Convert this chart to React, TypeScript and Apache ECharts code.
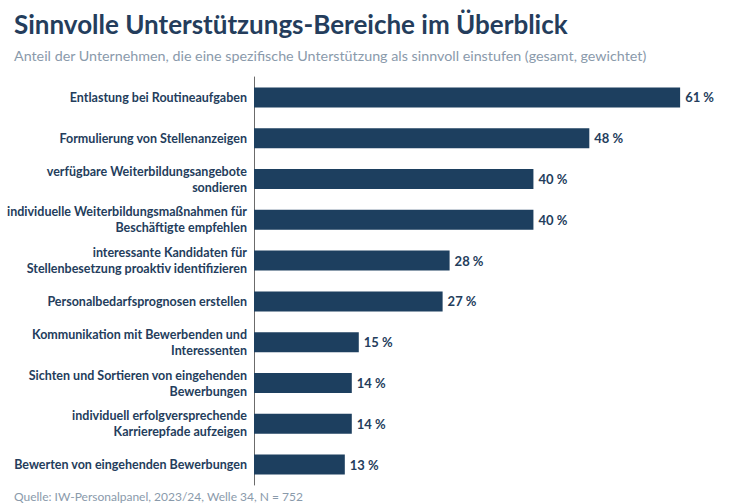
import React, { useEffect, useRef } from "react";
import * as echarts from "echarts";

const categories = [
  "Entlastung bei Routineaufgaben",
  "Formulierung von Stellenanzeigen",
  "verfügbare Weiterbildungsangebote\nsondieren",
  "individuelle Weiterbildungsmaßnahmen für\nBeschäftigte empfehlen",
  "interessante Kandidaten für\nStellenbesetzung proaktiv identifizieren",
  "Personalbedarfsprognosen erstellen",
  "Kommunikation mit Bewerbenden und\nInteressenten",
  "Sichten und Sortieren von eingehenden\nBewerbungen",
  "individuell erfolgversprechende\nKarrierepfade aufzeigen",
  "Bewerten von eingehenden Bewerbungen",
];
const values = [61, 48, 40, 40, 28, 27, 15, 14, 14, 13];

const titleText = "Sinnvolle Unterstützungs-Bereiche im Überblick";
const subtitleText =
  "Anteil der Unternehmen, die eine spezifische Unterstützung als sinnvoll einstufen (gesamt, gewichtet)";
const sourceText = "Quelle: IW-Personalpanel, 2023/24, Welle 34, N = 752";

const NAVY = "#1d3f5f";
const TEXT = "#243d5c";
const GRAY = "#8a9aab";
const FONT = "Lato, 'Noto Sans', sans-serif";

export default function App() {
  const ref = useRef<HTMLDivElement>(null);
  useEffect(() => {
    if (!ref.current) return;
    const chart = echarts.init(ref.current, null, { renderer: "svg" });
    chart.setOption({
      animation: false,
      backgroundColor: "#ffffff",
      textStyle: { fontFamily: FONT },
      title: [
        {
          text: titleText,
          left: 9,
          top: 6,
          textStyle: { fontFamily: FONT, fontSize: 26, fontWeight: "bold", color: TEXT },
        },
        {
          text: subtitleText,
          left: 9,
          top: 43,
          textStyle: { fontFamily: FONT, fontSize: 14.3, fontWeight: "normal", color: GRAY },
        },
        {
          text: sourceText,
          left: 9,
          top: 485,
          textStyle: { fontFamily: FONT, fontSize: 12, fontWeight: "normal", color: GRAY },
        },
      ],
      grid: { left: 254, top: 77, width: 489, height: 408, containLabel: false },
      xAxis: {
        type: "value",
        min: 0,
        max: 70,
        show: false,
      },
      yAxis: {
        type: "category",
        data: categories,
        inverse: true,
        axisLine: { show: true, lineStyle: { color: "#6b6b6b", width: 1 } },
        axisTick: { show: false },
        splitLine: { show: false },
        axisLabel: {
          margin: 7,
          color: TEXT,
          fontFamily: FONT,
          fontSize: 12.5,
          fontWeight: "bold",
          lineHeight: 16,
          align: "right",
        },
      },
      series: [
        {
          type: "bar",
          data: values,
          barWidth: 20,
          itemStyle: { color: NAVY },
          label: {
            show: true,
            position: "right",
            distance: 5,
            formatter: "{c} %",
            color: TEXT,
            fontFamily: FONT,
            fontSize: 13,
            fontWeight: "bold",
          },
        },
      ],
    });
    return () => chart.dispose();
  }, []);
  return <div ref={ref} style={{ width: 754, height: 503, position: "absolute", left: 0, top: 0 }} />;
}
